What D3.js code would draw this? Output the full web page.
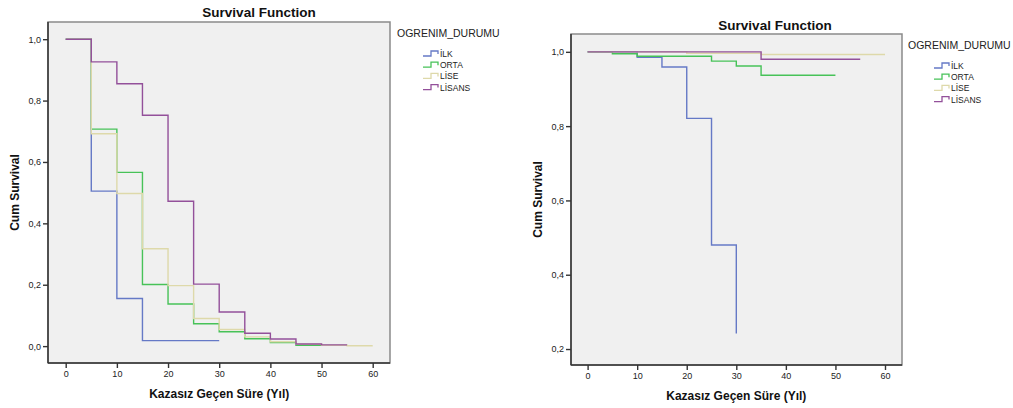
<!DOCTYPE html>
<html>
<head>
<meta charset="utf-8">
<script src="https://cdn.jsdelivr.net/npm/d3@7"></script>
<style>
  body { margin: 0; background: #fff; }
  svg { display: block; font-family: "Liberation Sans", Arial, sans-serif; }
</style>
</head>
<body>
<div id="chart"></div>
<script>
// group names and legend
const groups = ["İLK", "ORTA", "LİSE", "LİSANS"];
const groupColors = ["#6579c6", "#47c258", "#ded9aa", "#93509a"];
const xTicks = [0, 10, 20, 30, 40, 50, 60];

// left panel, step times and cum survival
const leftIlkT = [0, 5, 10, 15, 30];
const leftIlkS = [1, 0.505, 0.155, 0.018, 0.018];
const leftOrtaT = [0, 5, 10, 15, 20, 25, 30, 35, 40, 45, 50];
const leftOrtaS = [1, 0.707, 0.566, 0.201, 0.137, 0.073, 0.047, 0.024, 0.012, 0.003, 0.003];
const leftLiseT = [0, 5, 10, 15, 20, 25, 30, 35, 40, 45, 50, 55, 60];
const leftLiseS = [1, 0.692, 0.497, 0.317, 0.197, 0.09, 0.054, 0.03, 0.014, 0.006, 0.003, 0.001, 0.001];
const leftLisansT = [0, 5, 10, 15, 20, 25, 30, 35, 40, 45, 50, 55];
const leftLisansS = [1, 0.926, 0.855, 0.752, 0.472, 0.202, 0.111, 0.042, 0.023, 0.007, 0.004, 0.004];
const leftYTicks = [0, 0.2, 0.4, 0.6, 0.8, 1.0];

// right panel
const rightIlkT = [0, 10, 15, 20, 25, 30];
const rightIlkS = [1, 0.985, 0.959, 0.821, 0.48, 0.242];
const rightOrtaT = [0, 5, 10, 25, 30, 35, 50];
const rightOrtaS = [1, 0.995, 0.988, 0.975, 0.962, 0.937, 0.937];
const rightLiseT = [0, 20, 35, 60];
const rightLiseS = [1, 0.996, 0.993, 0.993];
const rightLisansT = [0, 35, 55];
const rightLisansS = [1, 0.98, 0.98];
const rightYTicks = [0.2, 0.4, 0.6, 0.8, 1.0];

const W = 1013, H = 408;
const svg = d3.select("#chart").append("svg")
    .attr("width", W)
    .attr("height", H);

const fmt = v => d3.format(".1f")(v).replace(".", ",");

function drawPanel(p) {
    const x = d3.scaleLinear().domain(p.xDomain).range([p.left, p.right]);
    const y = d3.scaleLinear().domain(p.yDomain).range([p.bottom, p.top]);
    const g = svg.append("g");

    g.append("rect")
        .attr("x", p.left).attr("y", p.top)
        .attr("width", p.right - p.left).attr("height", p.bottom - p.top)
        .attr("fill", "#f0f0f0")
        .attr("stroke", "#8a8a8a")
        .attr("stroke-width", 1.5);

    const line = d3.line()
        .x(d => x(d[0]))
        .y(d => y(d[1]))
        .curve(d3.curveStepAfter);

    p.series.forEach((s, i) => {
        const pts = s.t.map((t, j) => [t, s.s[j]]);
        g.append("path")
            .attr("d", line(pts))
            .attr("fill", "none")
            .attr("stroke", groupColors[i])
            .attr("stroke-width", 1.4);
    });

    // axes
    const ax = g.append("g")
        .attr("transform", `translate(0,${p.bottom})`)
        .call(d3.axisBottom(x).tickValues(xTicks).tickSize(5).tickPadding(3));
    const ay = g.append("g")
        .attr("transform", `translate(${p.left},0)`)
        .call(d3.axisLeft(y).tickValues(p.yTicks).tickFormat(fmt).tickSize(5).tickPadding(2));
    [ax, ay].forEach(a => {
        a.select(".domain").remove();
        a.selectAll(".tick line").attr("stroke", "#333").attr("stroke-width", 1.4);
        a.selectAll(".tick text")
            .attr("fill", "#222")
            .style("font-size", "9px")
            .style("font-family", "'Liberation Sans', Arial, sans-serif");
    });

    g.append("line")
        .attr("x1", p.left).attr("x2", p.left)
        .attr("y1", p.top).attr("y2", p.bottom)
        .attr("stroke", "#333").attr("stroke-width", 1.5);
    g.append("line")
        .attr("x1", p.left).attr("x2", p.right)
        .attr("y1", p.bottom).attr("y2", p.bottom)
        .attr("stroke", "#333").attr("stroke-width", 1.5);

    g.append("text")
        .attr("x", p.titleX).attr("y", p.titleY)
        .attr("text-anchor", "middle")
        .style("font-size", "13.5px")
        .style("font-weight", "bold")
        .attr("fill", "#111")
        .text("Survival Function");

    g.append("text")
        .attr("x", (x(0) + x(60)) / 2).attr("y", p.bottom + 35)
        .attr("text-anchor", "middle")
        .style("font-size", "12px")
        .style("font-weight", "bold")
        .attr("fill", "#111")
        .text("Kazasız Geçen Süre (Yıl)");

    g.append("text")
        .attr("transform", `translate(${p.yTitleX},${(p.top + p.bottom) / 2}) rotate(-90)`)
        .attr("text-anchor", "middle")
        .style("font-size", "12px")
        .style("font-weight", "bold")
        .attr("fill", "#111")
        .text("Cum Survival");

    // legend
    const lg = g.append("g").attr("transform", `translate(${p.legX},${p.legY})`);
    lg.append("text")
        .attr("x", 0).attr("y", 0)
        .style("font-size", "10.5px")
        .attr("fill", "#222")
        .text("OGRENIM_DURUMU");
    groups.forEach((name, i) => {
        const yy = 17 + i * 11.2;
        lg.append("path")
            .attr("d", `M26,${yy + 2} H34 V${yy - 3} H41 V${yy}`)
            .attr("fill", "none")
            .attr("stroke", groupColors[i])
            .attr("stroke-width", 1.3);
        lg.append("text")
            .attr("x", 43).attr("y", yy + 3)
            .style("font-size", "8.5px")
            .attr("fill", "#222")
            .text(name);
    });
}

drawPanel({
    left: 48, right: 390, top: 22, bottom: 363,
    xDomain: [-3.46, 63.38], yDomain: [-0.055, 1.056],
    yTicks: leftYTicks,
    titleX: 259, titleY: 17,
    yTitleX: 19,
    legX: 397, legY: 37,
    series: [
        {t: leftIlkT, s: leftIlkS},
        {t: leftOrtaT, s: leftOrtaS},
        {t: leftLiseT, s: leftLiseS},
        {t: leftLisansT, s: leftLisansS}
    ]
});

drawPanel({
    left: 571, right: 902, top: 34, bottom: 365,
    xDomain: [-3.35, 63.43], yDomain: [0.157, 1.048],
    yTicks: rightYTicks,
    titleX: 775, titleY: 30,
    yTitleX: 542,
    legX: 908, legY: 49,
    series: [
        {t: rightIlkT, s: rightIlkS},
        {t: rightOrtaT, s: rightOrtaS},
        {t: rightLiseT, s: rightLiseS},
        {t: rightLisansT, s: rightLisansS}
    ]
});
</script>
</body>
</html>
